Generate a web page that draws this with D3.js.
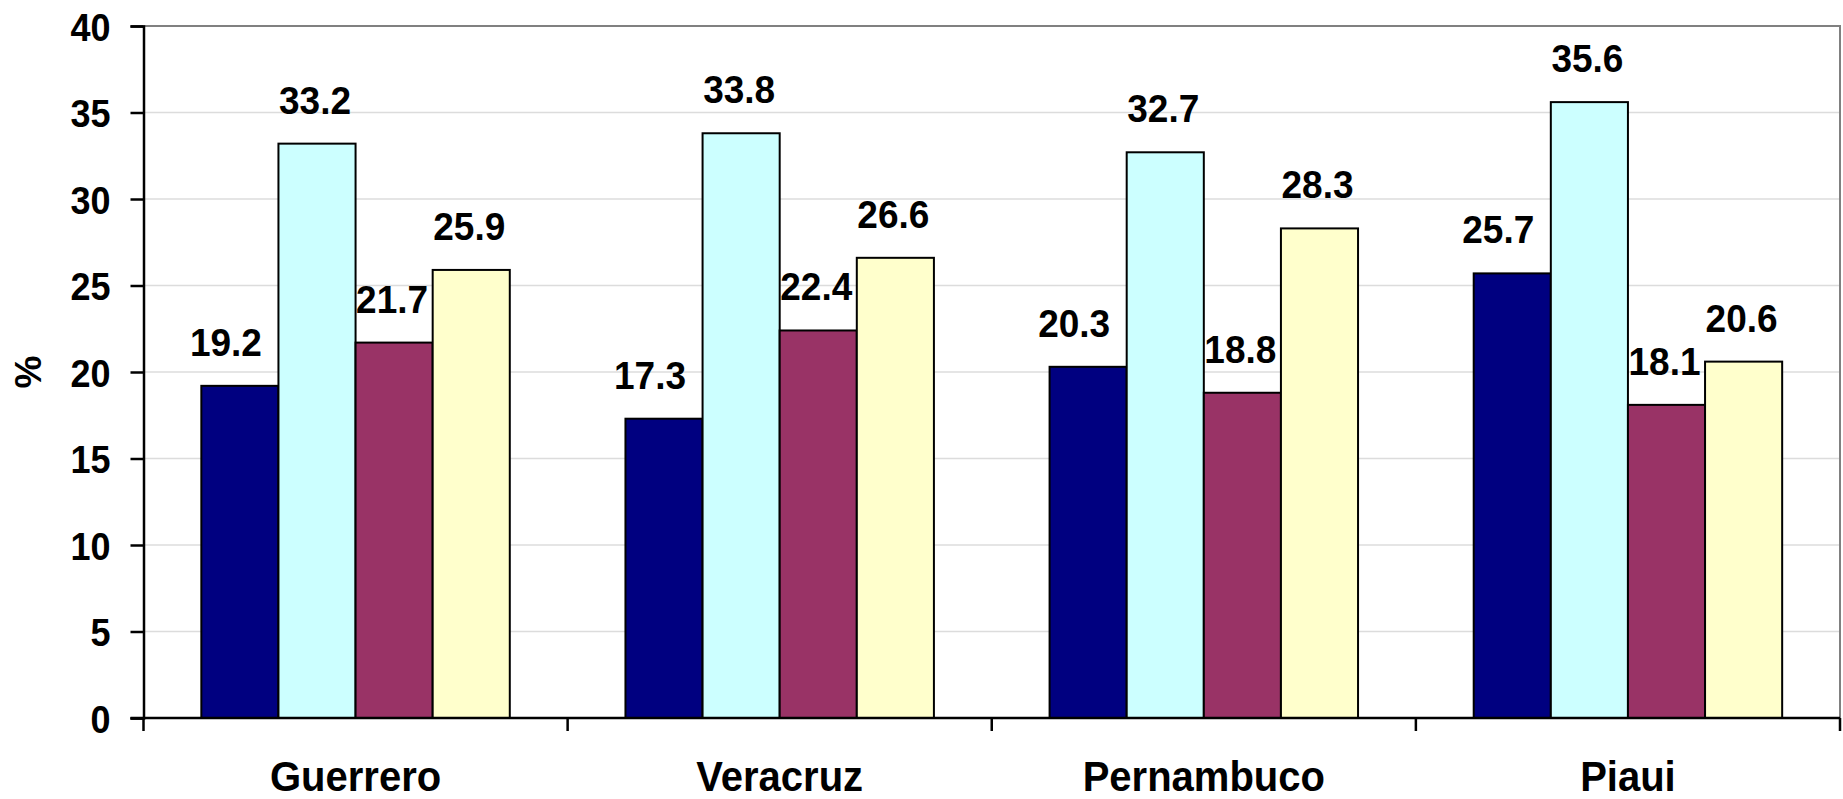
<!DOCTYPE html>
<html>
<head>
<meta charset="utf-8">
<script src="https://cdn.jsdelivr.net/npm/d3@7"></script>
<style>
  html, body { margin: 0; padding: 0; background: #ffffff; }
  svg { display: block; }
  text { font-family: "Liberation Sans", Arial, sans-serif; font-weight: bold; fill: #000; }
</style>
</head>
<body>
<svg id="chart" width="1843" height="799"></svg>
<script>
// ---- data ----
const categories = ["Guerrero", "Veracruz", "Pernambuco", "Piaui"];
const series1 = [19.2, 17.3, 20.3, 25.7];
const series2 = [33.2, 33.8, 32.7, 35.6];
const series3 = [21.7, 22.4, 18.8, 18.1];
const series4 = [25.9, 26.6, 28.3, 20.6];
const yTicks = [0, 5, 10, 15, 20, 25, 30, 35, 40];
const yTitle = "%";

// ---- layout / style ----
const seriesList = [series1, series2, series3, series4];
const colors = ["#000080", "#CCFFFF", "#993366", "#FFFFCC"];
const labelNudge = [-14, -2, -2, -2];

const plot = { left: 143.5, right: 1840, top: 26, bottom: 718 };
const svg = d3.select("#chart");

const x0 = d3.scaleBand().domain(categories).range([plot.left, plot.right]).paddingInner(0).paddingOuter(0);
const x1 = d3.scaleBand().domain(d3.range(seriesList.length)).range([0, x0.bandwidth()]).paddingInner(0).paddingOuter(0.75);
const y = d3.scaleLinear().domain([0, 40]).range([plot.bottom, plot.top]);

// gridlines
svg.append("g").selectAll("line").data(yTicks.filter(t => t > 0 && t < 40)).join("line")
  .attr("x1", plot.left).attr("x2", plot.right)
  .attr("y1", d => y(d)).attr("y2", d => y(d))
  .attr("stroke", "#dcdcdc").attr("stroke-width", 1.5);

// plot border (top & right)
svg.append("path")
  .attr("d", `M${plot.left},${y(40)}H${plot.right}V${plot.bottom}`)
  .attr("fill", "none").attr("stroke", "#808080").attr("stroke-width", 2);

// bars
const groups = svg.append("g").selectAll("g").data(categories).join("g")
  .attr("transform", c => `translate(${x0(c)},0)`);
groups.selectAll("rect")
  .data((c, ci) => seriesList.map((s, si) => ({ si, v: s[ci] })))
  .join("rect")
  .attr("x", d => x1(d.si))
  .attr("width", x1.bandwidth())
  .attr("y", d => y(d.v))
  .attr("height", d => y(0) - y(d.v))
  .attr("fill", d => colors[d.si])
  .attr("stroke", "#000").attr("stroke-width", 2);

// data labels (slightly tall glyphs as in the reference)
groups.selectAll("text")
  .data((c, ci) => seriesList.map((s, si) => ({ si, v: s[ci] })))
  .join("text")
  .attr("transform", d => `translate(${x1(d.si) + x1.bandwidth() / 2 + labelNudge[d.si]},${y(d.v) - 30}) scale(1,1.05)`)
  .attr("text-anchor", "middle")
  .style("font-size", "37px")
  .text(d => d3.format(".1f")(d.v));

// y axis
const yAxis = svg.append("g").attr("transform", `translate(${plot.left},0)`)
  .call(d3.axisLeft(y).tickValues(yTicks).tickSize(13).tickPadding(20).tickFormat(d3.format("d")));
yAxis.select(".domain").attr("stroke", "#000").attr("stroke-width", 2.5);
yAxis.selectAll(".tick line").attr("stroke", "#000").attr("stroke-width", 2.5);
yAxis.selectAll(".tick text")
  .style("font-size", "36px").style("font-family", "'Liberation Sans', Arial, sans-serif").style("font-weight", "bold")
  .attr("dy", "0.36em")
  .attr("transform", "scale(1,1.08)")
  .attr("y", function() { return 0; });
yAxis.selectAll(".tick").each(function(d) {
  d3.select(this).select("text").attr("transform", `translate(0,${-y(d) * 0 }) scale(1,1.08)`);
});

// x axis line and boundary ticks
svg.append("line").attr("x1", plot.left - 13).attr("x2", plot.right)
  .attr("y1", y(0)).attr("y2", y(0)).attr("stroke", "#000").attr("stroke-width", 2.5);
const bounds = categories.map(c => x0(c)).concat([plot.right]);
svg.append("g").selectAll("line").data(bounds).join("line")
  .attr("x1", d => d).attr("x2", d => d)
  .attr("y1", y(0)).attr("y2", y(0) + 13)
  .attr("stroke", "#000").attr("stroke-width", 2.5);

// category labels
svg.append("g").selectAll("text").data(categories).join("text")
  .attr("transform", c => `translate(${x0(c) + x0.bandwidth() / 2},791) scale(1,1.04)`)
  .attr("text-anchor", "middle")
  .style("font-size", "40px")
  .text(c => c);

// y title
svg.append("text")
  .attr("transform", `translate(28,372) rotate(-90)`)
  .attr("text-anchor", "middle")
  .attr("dy", "0.36em")
  .style("font-size", "37px")
  .text(yTitle);
</script>
</body>
</html>
